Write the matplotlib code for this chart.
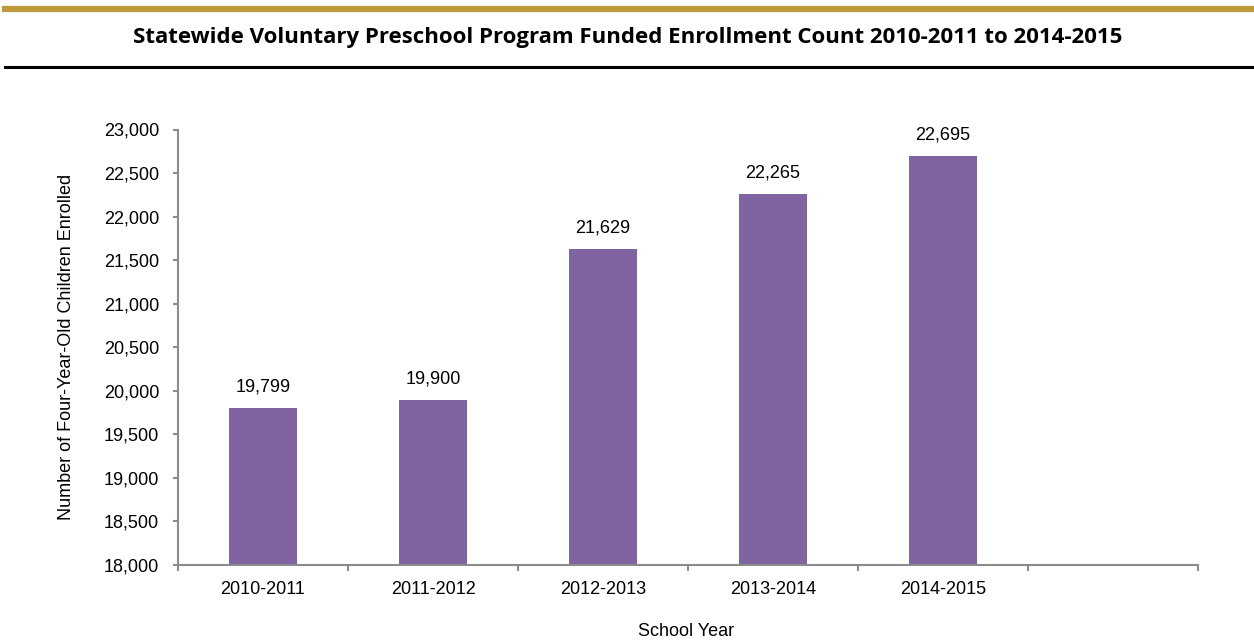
import matplotlib
matplotlib.use("Agg")
import matplotlib.pyplot as plt
from matplotlib.lines import Line2D
from matplotlib.ticker import FuncFormatter

# data
years = ["2010-2011", "2011-2012", "2012-2013", "2013-2014", "2014-2015"]
enrolled = [19799, 19900, 21629, 22265, 22695]
y_ticks = [18000, 18500, 19000, 19500, 20000, 20500, 21000, 21500, 22000, 22500, 23000]

bar_color = "#8064A2"
axis_color = "#8C8C8C"
gold = "#BF9A3C"

plt.rcParams["font.family"] = ["Liberation Sans", "DejaVu Sans"]

fig = plt.figure(figsize=(12.54, 6.44), dpi=100)
ax = fig.add_axes([178 / 1254, (644 - 565) / 644, (1198 - 178) / 1254, (565 - 129.5) / 644])

# six slots, the last one left empty as in the original
x = list(range(len(years)))
ax.bar(x, [v - 18000 for v in enrolled], bottom=18000, width=0.4, color=bar_color, zorder=2)

for xi, v in zip(x, enrolled):
    ax.annotate(f"{v:,}", (xi, v), xytext=(0, 9), textcoords="offset points",
                ha="center", va="bottom", fontsize=13)

ax.set_xlim(-0.5, 5.5)
ax.set_ylim(18000, 23000)
ax.set_yticks(y_ticks)
ax.yaxis.set_major_formatter(FuncFormatter(lambda v, p: f"{int(v):,}"))
ax.set_xticks([i - 0.5 for i in range(7)])
ax.set_xticklabels([])
ax.set_xticks(x, minor=True)
ax.set_xticklabels(years, minor=True)
ax.tick_params(axis="x", which="minor", length=0, labelsize=13, pad=11.5)
ax.tick_params(axis="x", which="major", length=4, color=axis_color, width=1.5)
ax.tick_params(axis="y", length=3.6, color=axis_color, width=1.5, labelsize=13, pad=10)

for side in ["top", "right"]:
    ax.spines[side].set_visible(False)
for side in ["left", "bottom"]:
    ax.spines[side].set_color(axis_color)
    ax.spines[side].set_linewidth(1.5)

fig.text(686 / 1254, 1 - 632 / 644, "School Year", ha="center", va="center", fontsize=13)
fig.text(67 / 1254, 1 - 347 / 644, "Number of Four-Year-Old Children Enrolled", ha="center",
         va="center", rotation=90, fontsize=13)

# header band: gold rule, title, black rule
fig.add_artist(Line2D([5 / 1254, 1], [1 - 9 / 644, 1 - 9 / 644], color=gold, linewidth=4.5))
fig.add_artist(Line2D([5 / 1254, 1], [1 - 67 / 644, 1 - 67 / 644], color="black", linewidth=2.2))
fig.text(628 / 1254, 1 - 38 / 644,
         "Statewide Voluntary Preschool Program Funded Enrollment Count 2010-2011 to 2014-2015",
         ha="center", va="center", fontsize=16, fontweight="bold", family=["Open Sans", "DejaVu Sans"])

fig.savefig("out.png", dpi=100)
